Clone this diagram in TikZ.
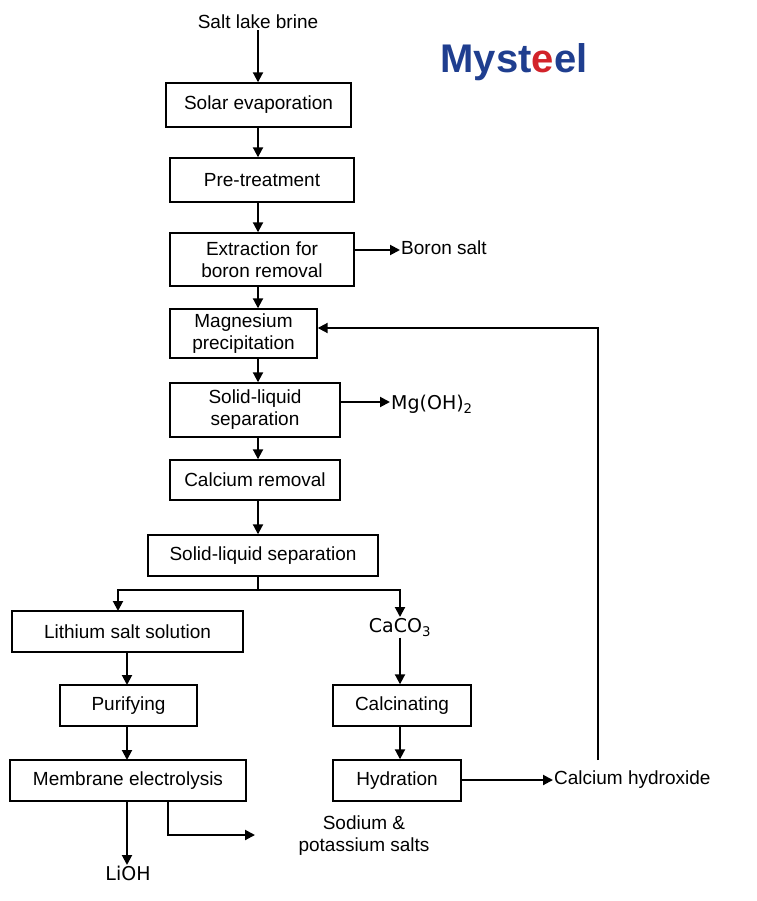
\documentclass[tikz,border=0pt]{standalone}
\usepackage{fontspec}
\setmainfont{Liberation Sans}
\newfontfamily\djfont{DejaVu Sans}
\usetikzlibrary{arrows.meta}
\definecolor{logob}{HTML}{1F3E8F}
\definecolor{logor}{HTML}{D2232A}
\begin{document}
\begin{tikzpicture}[x=1pt,y=-1pt,
 box/.style={draw,line width=1.4pt,minimum height=0pt,inner sep=0pt,font=\fontsize{19}{22}\selectfont,align=center},
 txt/.style={font=\fontsize{19}{22}\selectfont,align=center,inner sep=1pt},
 ar/.style={-{Triangle[length=10pt,width=10pt]},line width=2pt}]
\useasboundingbox (0,0) rectangle (756,901);
\newcommand\bx[6]{\node[box,minimum width=#3-#2,minimum height=#5-#4] (#1) at ({(#2+#3)/2},{(#4+#5)/2}) {#6};}
\node[txt] (brine) at (258,22) {Salt lake brine};
\bx{solar}{166}{351}{83}{127}{Solar evaporation}
\bx{pre}{170}{354}{158}{202}{Pre-treatment}
\bx{ext}{170}{354}{233}{286}{Extraction for\\boron removal}
\bx{mag}{170}{317}{309}{358}{Magnesium\\precipitation}
\bx{sls}{170}{340}{383}{437}{Solid-liquid\\separation}
\bx{cal}{170}{340}{460}{500}{Calcium removal}
\bx{sls2}{148}{378}{535}{576}{Solid-liquid separation}
\bx{li}{12}{243}{611}{652}{Lithium salt solution}
\bx{pur}{60}{197}{685}{726}{Purifying}
\bx{calc}{333}{471}{685}{726}{Calcinating}
\bx{mem}{10}{246}{760}{801}{Membrane electrolysis}
\bx{hyd}{333}{461}{760}{801}{Hydration}
\node[txt,anchor=north] (caco) at (400,617) {\djfont CaCO\textsubscript{3}};
\node[txt,anchor=west] (boron) at (400,248) {Boron salt};
\node[txt,anchor=west] (mgoh) at (390,404) {\djfont Mg(OH)\textsubscript{2}};
\node[txt,anchor=west] (caoh) at (553,780) {Calcium hydroxide};
\node[txt] (na) at (364,836) {Sodium \&\\potassium salts};
\node[txt,anchor=north] (lioh) at (128,865) {\djfont LiOH};
\node[inner sep=0pt] (logo) at (514,62) {\fontsize{40}{42}\selectfont\bfseries\color{logob}Myst\textcolor{logor}{e}el};
\coordinate (split) at (258,590);
\coordinate (mx) at (168,835);
\coordinate (up) at (598,328);
\draw[ar] (brine.south-|258,0) -- (solar.north-|258,0);
\draw[ar] (solar.south-|258,0) -- (pre.north-|258,0);
\draw[ar] (pre.south-|258,0) -- (ext.north-|258,0);
\draw[ar] (ext.south-|258,0) -- (mag.north-|258,0);
\draw[ar] (mag.south-|258,0) -- (sls.north-|258,0);
\draw[ar] (sls.south-|258,0) -- (cal.north-|258,0);
\draw[ar] (cal.south-|258,0) -- (sls2.north-|258,0);
\draw[line width=2pt] (sls2.south-|split) -- (split);
\draw[ar] (split) -| (118,611);
\draw[ar] (split) -| (caco.north);
\draw[ar] (127,652) -- (127,685);
\draw[ar] (127,726) -- (127,760);
\draw[ar] (127,801) -- (lioh.north-|127,0);
\draw[ar] (mem.south-|mx) -- (mx) -- (255,835);
\draw[ar] (caco.south) -- (calc.north-|caco.south);
\draw[ar] (calc.south-|400,0) -- (hyd.north-|400,0);
\draw[ar] (hyd.east|-0,780) -- (caoh.west);
\draw[ar] (598,760) -- (up) -- (mag.east|-up);
\draw[ar] (ext.east|-0,250) -- (boron.west|-0,250);
\draw[ar] (sls.east|-0,402) -- (mgoh.west|-0,402);
\end{tikzpicture}
\end{document}
